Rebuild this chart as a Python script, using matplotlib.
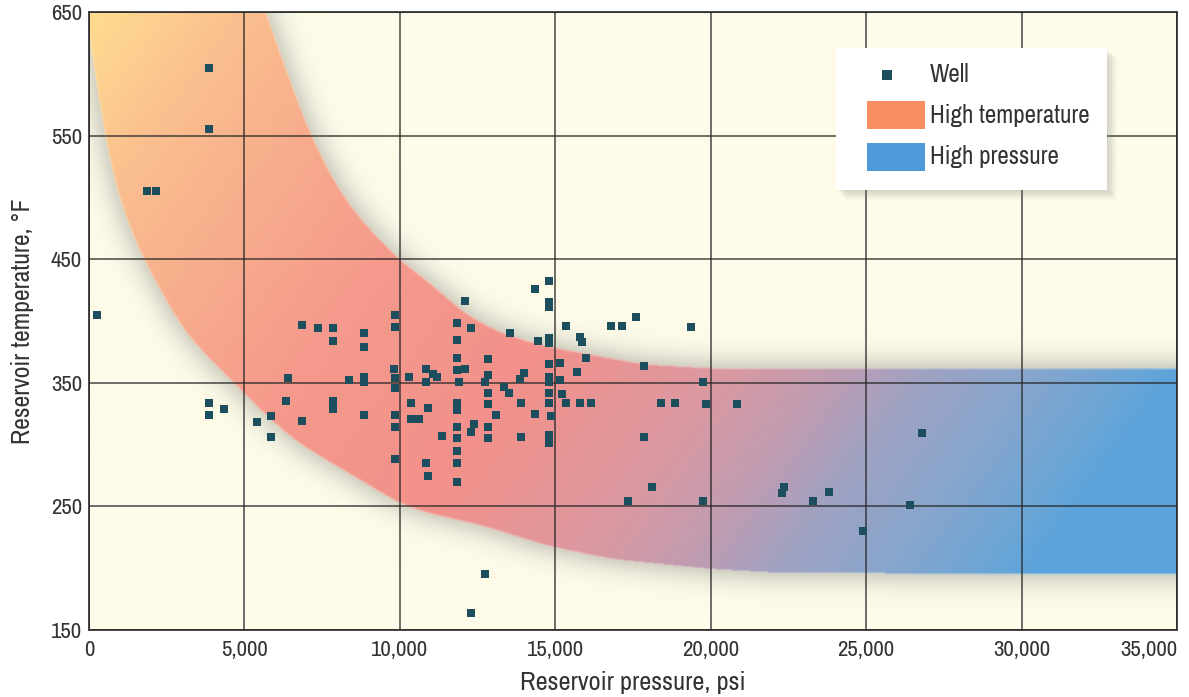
import numpy as np
import matplotlib.pyplot as plt
from matplotlib import font_manager
from matplotlib.colors import LinearSegmentedColormap, to_rgb
from matplotlib.patches import Rectangle

# prefer a narrow sans face when one is installed
narrow = [f.name for f in font_manager.fontManager.ttflist
          if 'Narrow' in f.name or 'Condensed' in f.name]
plt.rcParams['font.family'] = (narrow[:1] or []) + ['DejaVu Sans']
plt.rcParams['font.stretch'] = 'condensed'

# wells: reservoir pressure (psi) vs reservoir temperature (degF)
pressure = [250, 3850, 3850, 1850, 2150, 3850, 3850, 4350, 5400, 5850,
            5850, 6400, 6350, 6850, 6850, 7350, 7850, 7850, 7850, 7850,
            8350, 8850, 8850, 8850, 8850, 8850,
            9850, 9850, 9800, 9850, 9850, 9850, 9850, 9850,
            10300, 10350, 10350, 10600, 10850, 10850, 10900, 10850, 10900,
            11050, 11200, 11350,
            11850, 11850, 11850, 11850, 12100, 11900, 11850, 11850, 11850,
            11850, 11850, 11850, 11850, 12100, 12300, 12400, 12300,
            12850, 12850, 12750, 12850, 12850, 13100, 12850, 12850, 12750, 12300,
            13550, 13350, 13500, 13850, 14000, 13900, 13900, 14350, 14450, 14350,
            14800, 14800, 14800, 14800, 14800, 14800, 14800, 14800, 14800,
            14800, 14850, 14800, 14800,
            15150, 15150, 15200, 15350, 15350, 15800, 15850, 15700, 16000,
            15800, 16150, 16800, 17150, 17600, 17850, 17850, 18100, 17350,
            18400, 18850, 19350, 19750, 19850, 19750, 20850,
            22350, 22300, 23300, 23800, 24900, 26400, 26800]
temperature = [405, 605, 555, 505, 505, 334, 324, 329, 318, 323,
               306, 354, 335, 319, 397, 394, 394, 384, 335, 329,
               352, 390, 379, 355, 351, 324,
               405, 395, 361, 354, 346, 324, 314, 288,
               355, 334, 321, 321, 361, 351, 330, 285, 275,
               357, 355, 307,
               398, 385, 370, 360, 361, 351, 334, 328, 314,
               305, 295, 285, 270, 416, 394, 317, 310,
               369, 356, 351, 342, 333, 324, 314, 305, 195, 164,
               390, 347, 342, 353, 358, 334, 306, 426, 384, 325,
               432, 415, 411, 386, 382, 365, 355, 351, 342,
               334, 323, 308, 301,
               352, 366, 341, 334, 396, 387, 383, 359, 370,
               334, 334, 396, 396, 403, 364, 306, 266, 254,
               334, 334, 395, 351, 333, 254, 333,
               266, 261, 254, 262, 230, 251, 309]

# outline of the shaded envelope
upper_x = [4900, 5660, 7100, 7970, 8710, 9935, 11190, 12000, 13050, 14110,
           15140, 17880, 20450, 40000]
upper_y = [710, 650, 550, 508, 482, 450, 426, 407, 392, 383,
           377, 364.5, 361, 361]
lower_x = [-2500, -400, 0, 350, 1320, 1740, 3020, 4000, 4630, 5600, 6560,
           7850, 8940, 10000, 10960, 12570, 14730, 16850, 20060, 22200, 40000]
lower_y = [760, 700, 652, 552, 471, 450, 392, 366, 350, 326, 304,
           284, 268, 252, 244, 235, 218, 207, 199, 196, 194.5]

band_stops = [0.0, 0.104, 0.2, 0.344, 0.52, 0.656, 0.744, 0.808, 0.888, 0.976, 1.0]
band_colors = ['#ffdd8f', '#fbc18f', '#f8b08d', '#f59a8c', '#f2918b', '#dc98a0',
               '#bf9cb2', '#a0a2c2', '#88a6cd', '#66a5d8', '#5aa3dc']

x_ticks = [0, 5000, 10000, 15000, 20000, 25000, 30000, 35000]
y_ticks = [150, 250, 350, 450, 550, 650]

bg = '#fefbe9'
well_color = '#1d4e5e'
grid_color = '#262626'
text_color = '#333333'


def gauss_blur(img, sigma):
    r = int(3 * sigma)
    t = np.arange(-r, r + 1)
    k = np.exp(-0.5 * (t / sigma) ** 2)
    k /= k.sum()
    out = np.pad(img, r, mode='edge')
    out = np.apply_along_axis(lambda v: np.convolve(v, k, mode='same'), 0, out)
    out = np.apply_along_axis(lambda v: np.convolve(v, k, mode='same'), 1, out)
    return out[r:-r, r:-r]


def smooth_edge(xs, cx, cy, width):
    y = np.interp(xs, cx, cy)
    n = max(int(width / (xs[1] - xs[0])), 1)
    k = np.ones(n) / n
    y = np.pad(y, n, mode='edge')
    y = np.convolve(y, k, mode='same')
    return np.convolve(y, k, mode='same')[n:-n]


fig = plt.figure(figsize=(11.89, 6.97), dpi=100)
ax = fig.add_axes([0.0749, 0.0961, 0.9150, 0.8867])

# raster for the envelope: gradient fill plus a soft shadow around it
pad = 60
nx, ny = 1088 + 2 * pad, 618 + 2 * pad
dx, dy = 35000 / 1088, 500 / 618
xs = (np.arange(nx) - pad + 0.5) * dx
ys = 650 - (np.arange(ny) - pad + 0.5) * dy
XX, YY = np.meshgrid(xs, ys)
up = smooth_edge(xs, upper_x, upper_y, 900)[None, :]
lo = smooth_edge(xs, lower_x, lower_y, 900)[None, :]
mask = ((YY <= up) & (YY >= lo)).astype(float)
mask = gauss_blur(mask, 0.8)
glow = gauss_blur(mask, 15)
shade = np.clip(glow * (1 - mask) * 0.8, 0, 1)

cmap = LinearSegmentedColormap.from_list('envelope', list(zip(band_stops, band_colors)))
s = XX / 35000 - 0.25 * (YY - 350) / 300
fill = cmap(np.clip((s + 0.25) / 1.25, 0, 1))[..., :3]

base = np.array(to_rgb(bg))
gray = np.array(to_rgb('#8c9088'))
rgb = base * (1 - shade[..., None]) + gray * shade[..., None]
rgb = rgb * (1 - mask[..., None]) + fill * mask[..., None]

ax.imshow(rgb, extent=[xs[0] - dx / 2, xs[-1] + dx / 2, ys[-1] - dy / 2, ys[0] + dy / 2],
          aspect='auto', interpolation='bilinear', zorder=0)

ax.set_xlim(0, 35000)
ax.set_ylim(150, 650)
ax.set_xticks(x_ticks)
ax.set_yticks(y_ticks)
ax.set_xticklabels([f'{v:,}' for v in x_ticks])
ax.get_xticklabels()[-1].set_horizontalalignment('right')
ax.grid(True, color=grid_color, linewidth=1.1, alpha=0.85, zorder=1)
ax.set_axisbelow(False)
ax.tick_params(length=0, labelsize=16.5, labelcolor=text_color)
ax.tick_params(axis='x', pad=7)
ax.tick_params(axis='y', pad=5)
for sp in ax.spines.values():
    sp.set_color('#444444')
    sp.set_linewidth(1.4)

ax.scatter(pressure, temperature, marker='s', s=34, color=well_color,
           linewidths=0, zorder=3)

ax.set_xlabel('Reservoir pressure, psi', fontsize=19, color=text_color, labelpad=8)
ax.set_ylabel('Reservoir temperature, °F', fontsize=18.5, color=text_color, labelpad=12)

# legend box with soft shadow
lx0, ly0, lw, lh = 0.6866, 0.7120, 0.2491, 0.2297
for i in range(8, 0, -1):
    off = i * 0.0011
    ax.add_patch(Rectangle((lx0 + off, ly0 - off * 1.76), lw, lh, transform=ax.transAxes,
                           facecolor='#6e6e6e', alpha=0.035, linewidth=0, zorder=4))
ax.add_patch(Rectangle((lx0, ly0), lw, lh, transform=ax.transAxes,
                       facecolor='white', linewidth=0, zorder=5))
ax.scatter([0.7335], [0.8981], transform=ax.transAxes, marker='s', s=48,
           color=well_color, linewidths=0, zorder=6)
ax.add_patch(Rectangle((0.7151, 0.8107), 0.0533, 0.0453, transform=ax.transAxes,
                       facecolor='#f98e63', linewidth=0, zorder=6))
ax.add_patch(Rectangle((0.7151, 0.7427), 0.0533, 0.0453, transform=ax.transAxes,
                       facecolor='#4f9bda', linewidth=0, zorder=6))
for ty, label in [(0.8981, 'Well'), (0.8333, 'High temperature'), (0.7654, 'High pressure')]:
    ax.text(0.773, ty, label, transform=ax.transAxes, fontsize=18, color=text_color,
            va='center', ha='left', zorder=7)

fig.savefig('out.png', dpi=100, facecolor='white')
